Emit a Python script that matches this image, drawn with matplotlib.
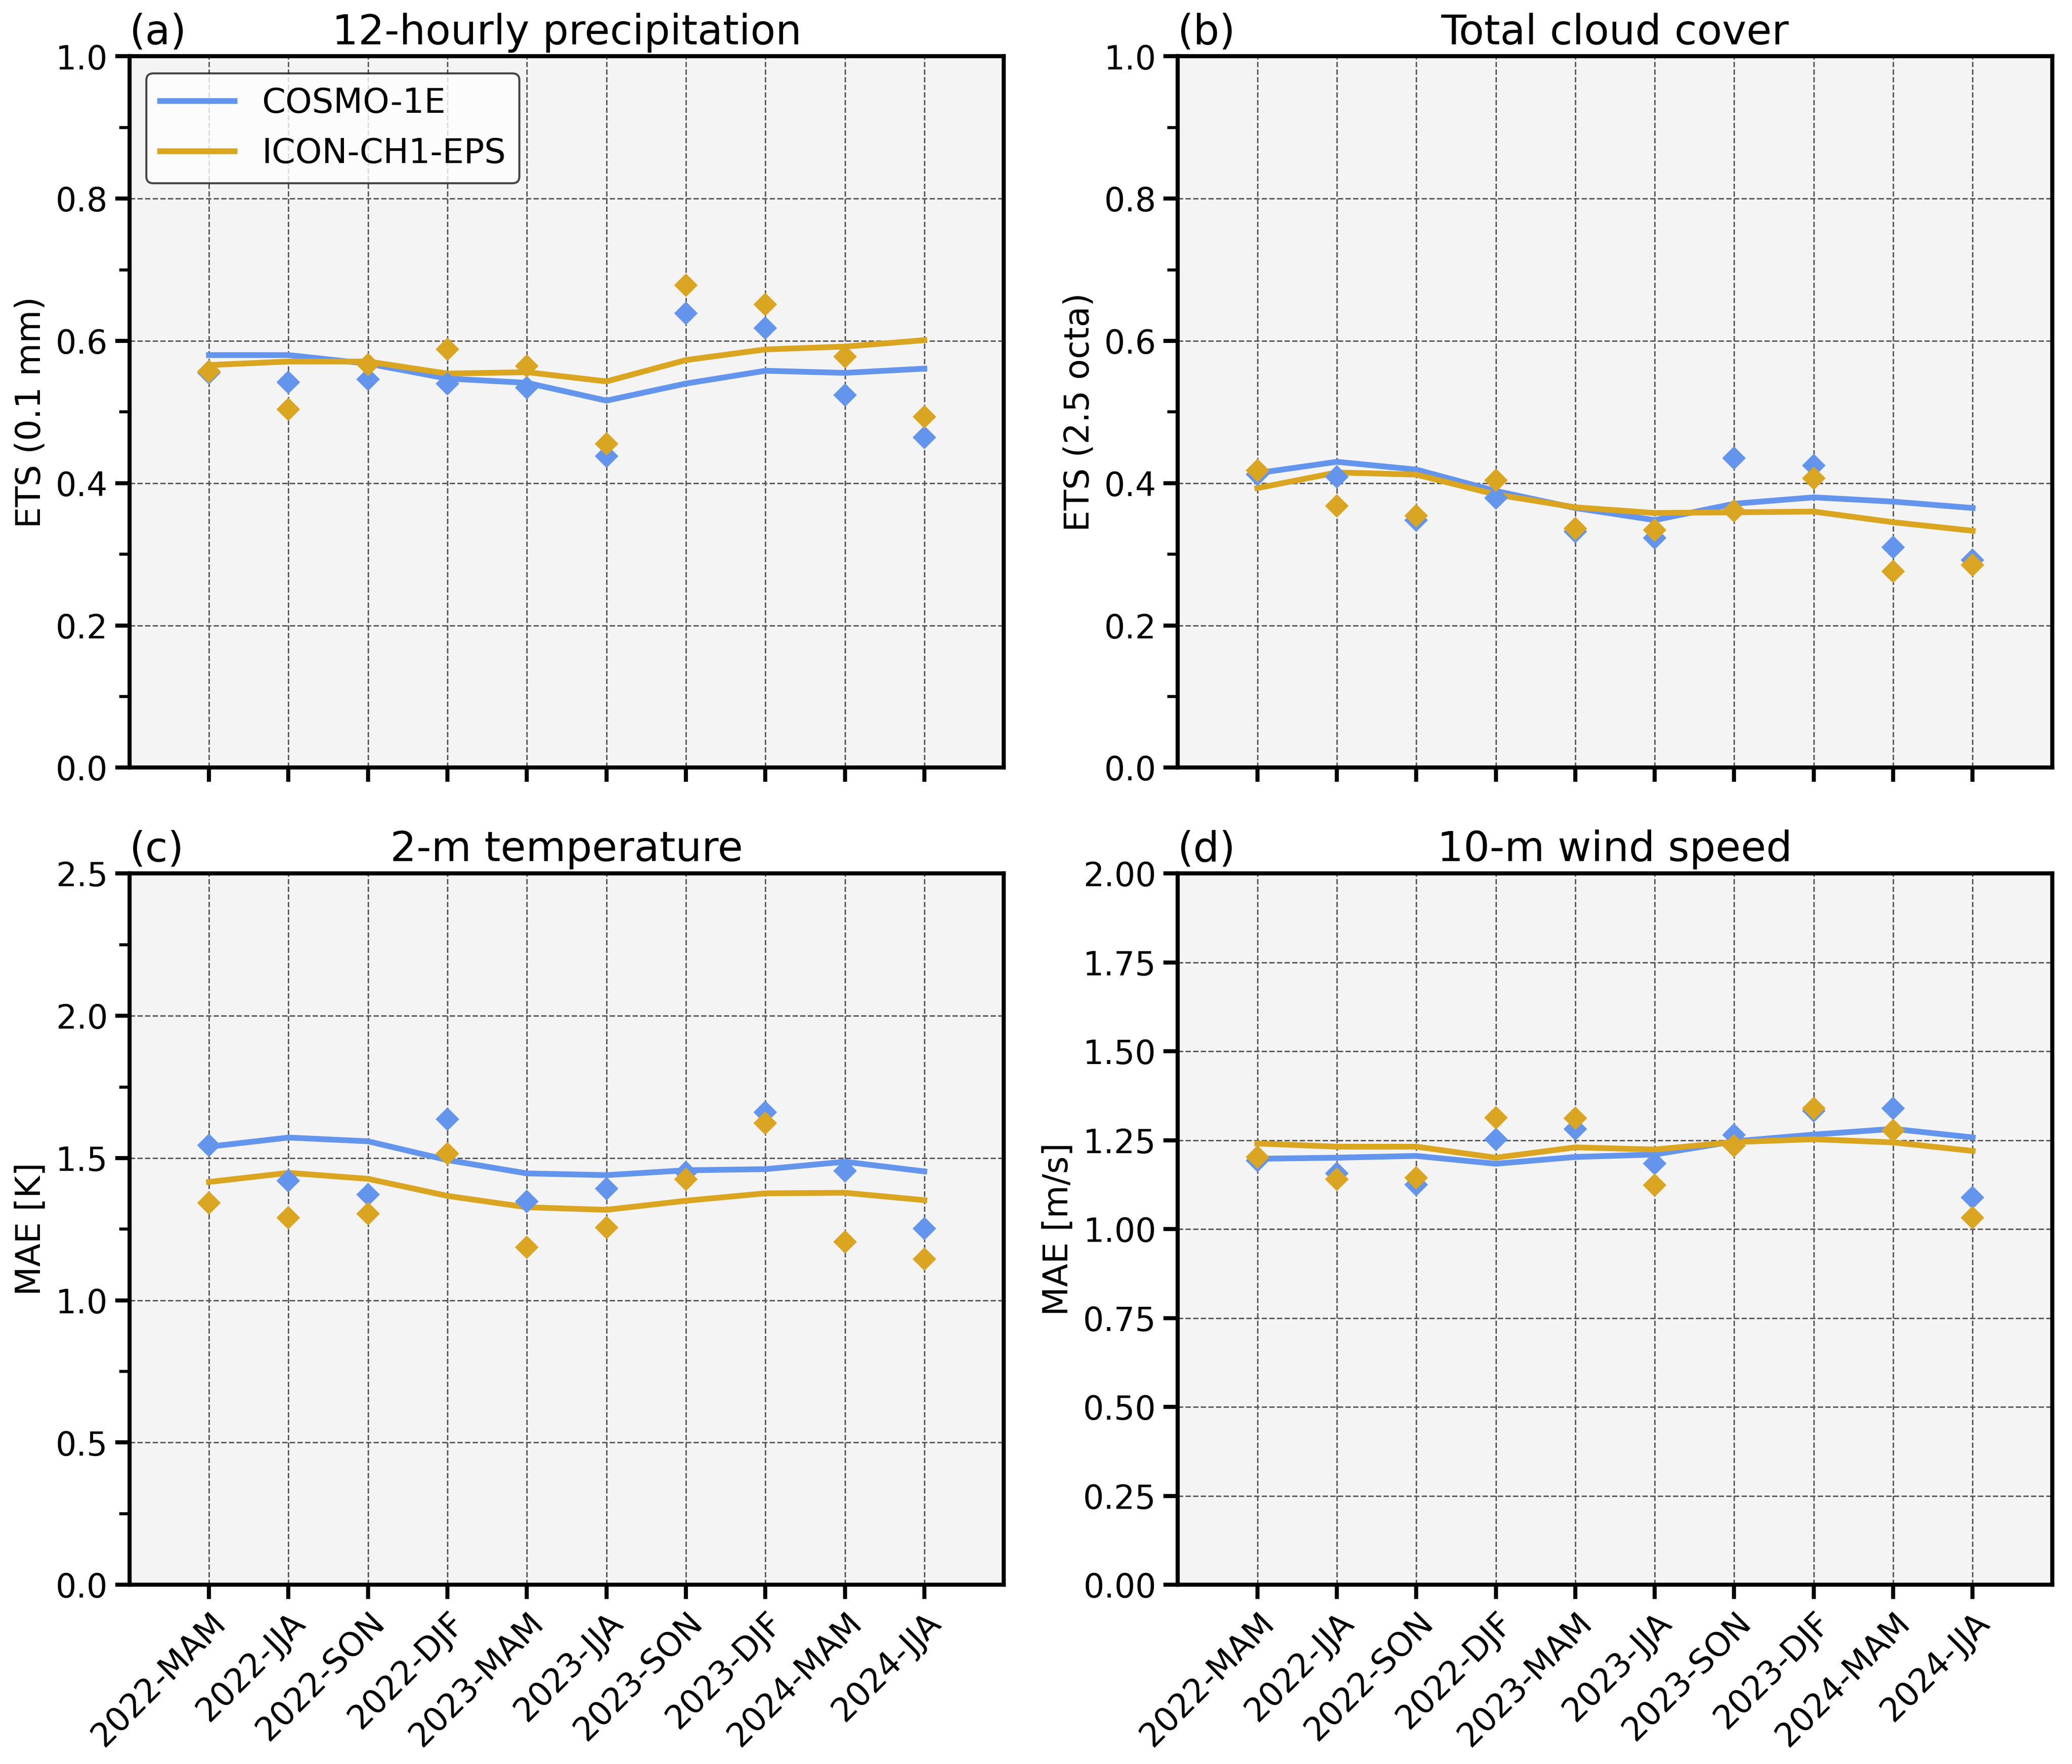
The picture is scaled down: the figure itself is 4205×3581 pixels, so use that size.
import numpy as np
import matplotlib
matplotlib.use("Agg")
import matplotlib.pyplot as plt
from matplotlib.ticker import MultipleLocator

# seasons on the x axis
seasons = ["2022-MAM", "2022-JJA", "2022-SON", "2022-DJF", "2023-MAM",
           "2023-JJA", "2023-SON", "2023-DJF", "2024-MAM", "2024-JJA"]

# (a) 12-hourly precipitation, ETS (0.1 mm)
prec_c1e_pts = [0.555, 0.542, 0.546, 0.540, 0.534, 0.438, 0.639, 0.618, 0.524, 0.464]
prec_ich_pts = [0.557, 0.504, 0.567, 0.588, 0.565, 0.455, 0.678, 0.651, 0.578, 0.493]
prec_c1e_line = [0.580, 0.580, 0.568, 0.547, 0.541, 0.516, 0.540, 0.558, 0.555, 0.561]
prec_ich_line = [0.566, 0.571, 0.571, 0.554, 0.556, 0.543, 0.573, 0.588, 0.592, 0.601]

# (b) total cloud cover, ETS (2.5 octa)
clct_c1e_pts = [0.412, 0.409, 0.348, 0.379, 0.332, 0.323, 0.435, 0.425, 0.310, 0.292]
clct_ich_pts = [0.418, 0.368, 0.354, 0.404, 0.336, 0.334, 0.361, 0.407, 0.276, 0.285]
clct_c1e_line = [0.414, 0.430, 0.419, 0.389, 0.365, 0.348, 0.371, 0.380, 0.374, 0.365]
clct_ich_line = [0.393, 0.415, 0.412, 0.384, 0.366, 0.358, 0.359, 0.360, 0.345, 0.333]

# (c) 2-m temperature, MAE [K]
t2m_c1e_pts = [1.544, 1.421, 1.372, 1.636, 1.348, 1.393, 1.450, 1.660, 1.455, 1.252]
t2m_ich_pts = [1.342, 1.291, 1.305, 1.515, 1.186, 1.256, 1.425, 1.623, 1.205, 1.145]
t2m_c1e_line = [1.540, 1.572, 1.559, 1.493, 1.446, 1.440, 1.457, 1.461, 1.487, 1.453]
t2m_ich_line = [1.416, 1.448, 1.427, 1.367, 1.327, 1.318, 1.350, 1.376, 1.378, 1.352]

# (d) 10-m wind speed, MAE [m/s]
ff_c1e_pts = [1.193, 1.157, 1.125, 1.253, 1.282, 1.184, 1.265, 1.333, 1.340, 1.089]
ff_ich_pts = [1.203, 1.140, 1.145, 1.314, 1.312, 1.123, 1.235, 1.340, 1.278, 1.032]
ff_c1e_line = [1.198, 1.201, 1.206, 1.184, 1.203, 1.210, 1.247, 1.266, 1.282, 1.258]
ff_ich_line = [1.241, 1.232, 1.232, 1.201, 1.230, 1.224, 1.245, 1.253, 1.244, 1.220]

c_blue = "#6495ED"
c_gold = "#DAA520"

plt.rcParams["font.family"] = "DejaVu Sans"

fig, axes = plt.subplots(2, 2, figsize=(14.017, 11.937), dpi=300)
fig.subplots_adjust(left=0.0625, right=0.9904, top=0.968, bottom=0.1016,
                    wspace=0.199, hspace=0.149)

panels = [
    ("(a)", "12-hourly precipitation", "ETS (0.1 mm)", prec_c1e_pts, prec_ich_pts,
     prec_c1e_line, prec_ich_line, (0, 1.0), 0.2, 0.1),
    ("(b)", "Total cloud cover", "ETS (2.5 octa)", clct_c1e_pts, clct_ich_pts,
     clct_c1e_line, clct_ich_line, (0, 1.0), 0.2, 0.1),
    ("(c)", "2-m temperature", "MAE [K]", t2m_c1e_pts, t2m_ich_pts,
     t2m_c1e_line, t2m_ich_line, (0, 2.5), 0.5, 0.25),
    ("(d)", "10-m wind speed", "MAE [m/s]", ff_c1e_pts, ff_ich_pts,
     ff_c1e_line, ff_ich_line, (0, 2.0), 0.25, None),
]

x = np.arange(len(seasons))

for i, (ax, p) in enumerate(zip(axes.flat, panels)):
    lab, title, ylab, c_pts, i_pts, c_line, i_line, ylim, major, minor = p
    ax.set_facecolor("#f4f4f4")
    ax.set_axisbelow(True)
    ax.grid(True, linestyle="--", linewidth=0.7, color="0.35")

    ax.plot(x, c_line, color=c_blue, lw=2.8, label="COSMO-1E", zorder=3)
    ax.plot(x, i_line, color=c_gold, lw=2.8, label="ICON-CH1-EPS", zorder=3)
    ax.plot(x, c_pts, "D", color=c_blue, ms=7.2, mew=1, zorder=4)
    ax.plot(x, i_pts, "D", color=c_gold, ms=7.2, mew=1, zorder=5)

    ax.set_xlim(-1, 10)
    ax.set_ylim(*ylim)
    ax.yaxis.set_major_locator(MultipleLocator(major))
    if minor is not None:
        ax.yaxis.set_minor_locator(MultipleLocator(minor))
    ax.set_xticks(x)
    if i >= 2:
        ax.set_xticklabels(seasons, rotation=45, ha="right", rotation_mode="anchor")
    else:
        ax.set_xticklabels([])

    ax.tick_params(axis="both", which="major", labelsize=16, length=7, width=2)
    ax.tick_params(axis="y", which="minor", length=5, width=1.5)
    for s in ax.spines.values():
        s.set_linewidth(2)

    ax.set_ylabel(ylab, fontsize=16.5)
    ax.set_title(title, fontsize=20)
    ax.set_title(lab, fontsize=20, loc="left")

    if i == 0:
        leg = ax.legend(loc="upper left", fontsize=16.5, frameon=True,
                        edgecolor="0.1", fancybox=True, handlelength=2.2)
        leg.get_frame().set_linewidth(1.0)

fig.savefig("out.png", dpi=300)
